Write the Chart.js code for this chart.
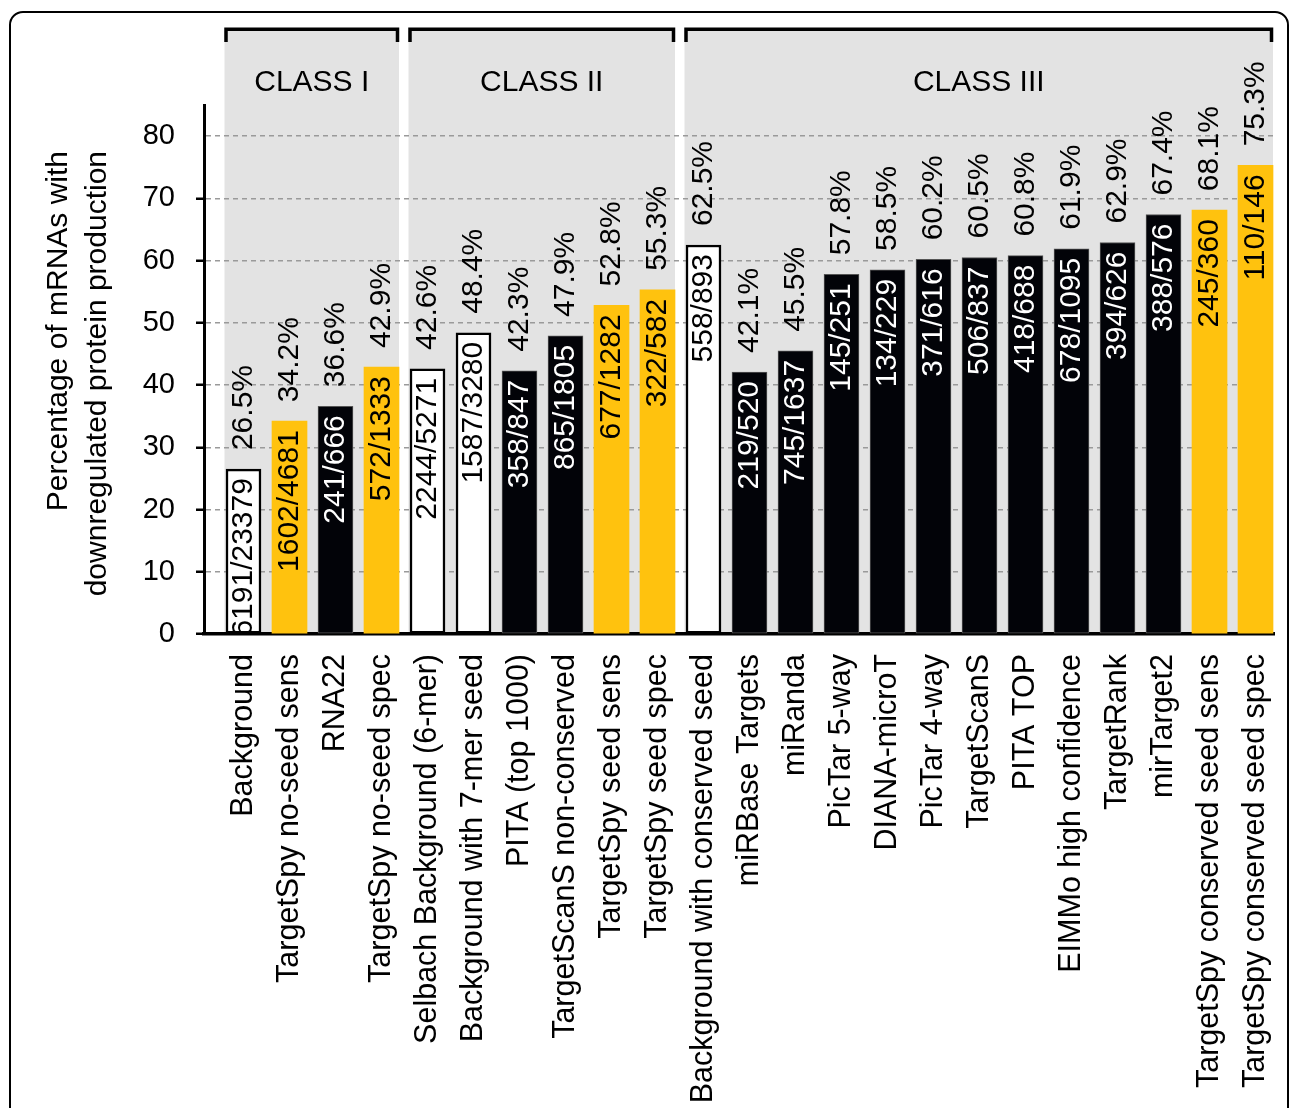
<!DOCTYPE html>
<html>
<head>
<meta charset="utf-8">
<script src="https://cdn.jsdelivr.net/npm/chart.js@4"></script>
<style>
html, body { margin: 0; padding: 0; background: #fff; }
#wrap { position: relative; width: 1290px; height: 1108px; overflow: hidden; }
#frame { position: absolute; left: 9px; top: 11px; width: 1276px; height: 1200px; border: 2px solid #000; border-radius: 14px; }
canvas { position: absolute; left: 0; top: 0; }
</style>
</head>
<body>
<div id="wrap"><div id="frame"></div><canvas id="c" width="1290" height="1108"></canvas></div>
<script>
// ---------- data ----------
const categories = [
  'Background', 'TargetSpy no-seed sens', 'RNA22', 'TargetSpy no-seed spec',
  'Selbach Background (6-mer)', 'Background with 7-mer seed', 'PITA (top 1000)',
  'TargetScanS non-conserved', 'TargetSpy seed sens', 'TargetSpy seed spec',
  'Background with conserved seed', 'miRBase Targets', 'miRanda', 'PicTar 5-way',
  'DIANA-microT', 'PicTar 4-way', 'TargetScanS', 'PITA TOP', 'EIMMo high confidence',
  'TargetRank', 'mirTarget2', 'TargetSpy conserved seed sens', 'TargetSpy conserved seed spec'
];
const percentValues = [
  26.5, 34.2, 36.6, 42.9,
  42.6, 48.4, 42.3, 47.9, 52.8, 55.3,
  62.5, 42.1, 45.5, 57.8, 58.5, 60.2, 60.5, 60.8, 61.9, 62.9, 67.4, 68.1, 75.3
];
const fractionLabels = [
  '6191/23379', '1602/4681', '241/666', '572/1333',
  '2244/5271', '1587/3280', '358/847', '865/1805', '677/1282', '322/582',
  '558/893', '219/520', '745/1637', '145/251', '134/229', '371/616', '506/837',
  '418/688', '678/1095', '394/626', '388/576', '245/360', '110/146'
];
const barKinds = [
  'white', 'yellow', 'black', 'yellow',
  'white', 'white', 'black', 'black', 'yellow', 'yellow',
  'white', 'black', 'black', 'black', 'black', 'black', 'black', 'black', 'black', 'black', 'black', 'yellow', 'yellow'
];
const classNames = ['CLASS I', 'CLASS II', 'CLASS III'];
const classFirstBar = [0, 4, 10];
const classLastBar = [3, 9, 22];
const yTickValues = [0, 10, 20, 30, 40, 50, 60, 70, 80];
const yAxisTitleLines = ['Percentage of mRNAs with', 'downregulated protein production'];

// ---------- styles ----------
const FONT = '"Liberation Sans", Arial, Helvetica, sans-serif';
const kindFill = { white: '#ffffff', black: '#020308', yellow: '#FFC20E' };
const kindBorder = { white: '#000000', black: '#555555', yellow: '#FFC20E' };
const kindBorderWidth = { white: 2.5, black: 1, yellow: 0 };
const kindText = { white: '#000000', black: '#ffffff', yellow: '#000000' };

const bandsPlugin = {
  id: 'bands',
  beforeDraw(chart) {
    const ctx = chart.ctx;
    const meta = chart.getDatasetMeta(0);
    const area = chart.chartArea;
    ctx.save();
    ctx.fillStyle = '#e3e3e3';
    classNames.forEach((name, k) => {
      const a = meta.data[classFirstBar[k]], b = meta.data[classLastBar[k]];
      const left = a.x - a.width / 2 - 1.5;
      const right = b.x + b.width / 2;
      ctx.fillRect(left, 31, right - left, area.bottom - 31);
    });
    ctx.restore();
  },
  afterDraw(chart) {
    const ctx = chart.ctx;
    const meta = chart.getDatasetMeta(0);
    ctx.save();
    classNames.forEach((name, k) => {
      const a = meta.data[classFirstBar[k]], b = meta.data[classLastBar[k]];
      const left = a.x - a.width / 2 - 1.5;
      const right = b.x + b.width / 2;
      ctx.strokeStyle = '#000';
      ctx.lineWidth = 3.5;
      ctx.lineJoin = 'miter';
      ctx.beginPath();
      ctx.moveTo(left + 1.5, 42);
      ctx.lineTo(left + 1.5, 29.2);
      ctx.lineTo(right - 1.5, 29.2);
      ctx.lineTo(right - 1.5, 42);
      ctx.stroke();
      ctx.fillStyle = '#000';
      ctx.font = '30px ' + FONT;
      ctx.textAlign = 'center';
      ctx.textBaseline = 'middle';
      ctx.fillText(name, (left + right) / 2, 83);
    });
    // y axis title (two lines, end-aligned)
    ctx.font = '30px ' + FONT;
    ctx.fillStyle = '#000';
    ctx.textAlign = 'right';
    ctx.textBaseline = 'alphabetic';
    const baselines = [67, 106];
    yAxisTitleLines.forEach((line, i) => {
      ctx.save();
      ctx.translate(baselines[i], 151);
      ctx.rotate(-Math.PI / 2);
      ctx.fillText(line, 0, 0);
      ctx.restore();
    });
    ctx.restore();
  }
};

const labelsPlugin = {
  id: 'barLabels',
  afterDatasetsDraw(chart) {
    const ctx = chart.ctx;
    const meta = chart.getDatasetMeta(0);
    const area = chart.chartArea;
    ctx.save();
    ctx.font = '30px ' + FONT;
    meta.data.forEach((bar, i) => {
      // percentage above bar
      ctx.save();
      ctx.translate(bar.x, bar.y - 19);
      ctx.rotate(-Math.PI / 2);
      ctx.textAlign = 'left';
      ctx.textBaseline = 'middle';
      ctx.fillStyle = '#000';
      ctx.fillText(percentValues[i].toFixed(1) + '%', 0, 0);
      ctx.restore();
      // fraction inside bar
      ctx.save();
      ctx.beginPath();
      ctx.rect(area.left, area.top - 200, area.right - area.left, area.bottom - area.top + 200);
      ctx.clip();
      ctx.translate(bar.x, bar.y + 9);
      ctx.rotate(-Math.PI / 2);
      ctx.textAlign = 'right';
      ctx.textBaseline = 'middle';
      ctx.fillStyle = kindText[barKinds[i]];
      ctx.fillText(fractionLabels[i], 0, 0);
      ctx.restore();
    });
    ctx.restore();
  }
};

const ctx = document.getElementById('c').getContext('2d');
new Chart(ctx, {
  type: 'bar',
  data: {
    datasets: [{
      data: percentValues.map((v, i) => ({ x: i, y: v })),
      backgroundColor: barKinds.map(k => kindFill[k]),
      borderColor: barKinds.map(k => kindBorder[k]),
      borderWidth: barKinds.map(k => kindBorderWidth[k]),
      borderSkipped: false,
      barThickness: 35
    }]
  },
  options: {
    responsive: false,
    animation: false,
    devicePixelRatio: 1,
    layout: { padding: { top: 105, left: 0, right: 16, bottom: 0 } },
    plugins: { legend: { display: false }, tooltip: { enabled: false } },
    scales: {
      x: {
        type: 'linear',
        offset: false,
        min: -0.8587,
        max: 22.402,
        afterBuildTicks: s => { s.ticks = categories.map((c, i) => ({ value: i })); },
        afterFit: s => { s.height = 474; s.paddingLeft = 0; s.paddingRight = 0; },
        grid: { display: false, drawTicks: false, offset: false },
        border: { display: true, color: '#000', width: 3.5 },
        ticks: {
          autoSkip: false, maxRotation: 90, minRotation: 90, padding: 20,
          color: '#000', font: { family: FONT, size: 30.5 },
          callback: v => (categories[v] !== undefined ? categories[v] : '')
        }
      },
      y: {
        min: 0,
        max: 85,
        afterBuildTicks: s => { s.ticks = yTickValues.map(v => ({ value: v })); },
        afterFit: s => { s.width = 204; s.paddingTop = 0; s.paddingBottom = 0; },
        grid: {
          color: c => (c.tick && c.tick.value === 0 ? 'rgba(0,0,0,0)' : '#9a9a9a'),
          lineWidth: 1.5,
          tickLength: 8,
          tickColor: c => (c.tick && c.tick.value === 80 ? 'rgba(0,0,0,0)' : '#000'),
          tickWidth: 2.5
        },
        border: { display: true, color: '#000', width: 3, dash: [5, 4] },
        ticks: { padding: 21, color: '#000', font: { family: FONT, size: 29 } }
      }
    }
  },
  plugins: [bandsPlugin, labelsPlugin]
});
</script>
</body>
</html>
